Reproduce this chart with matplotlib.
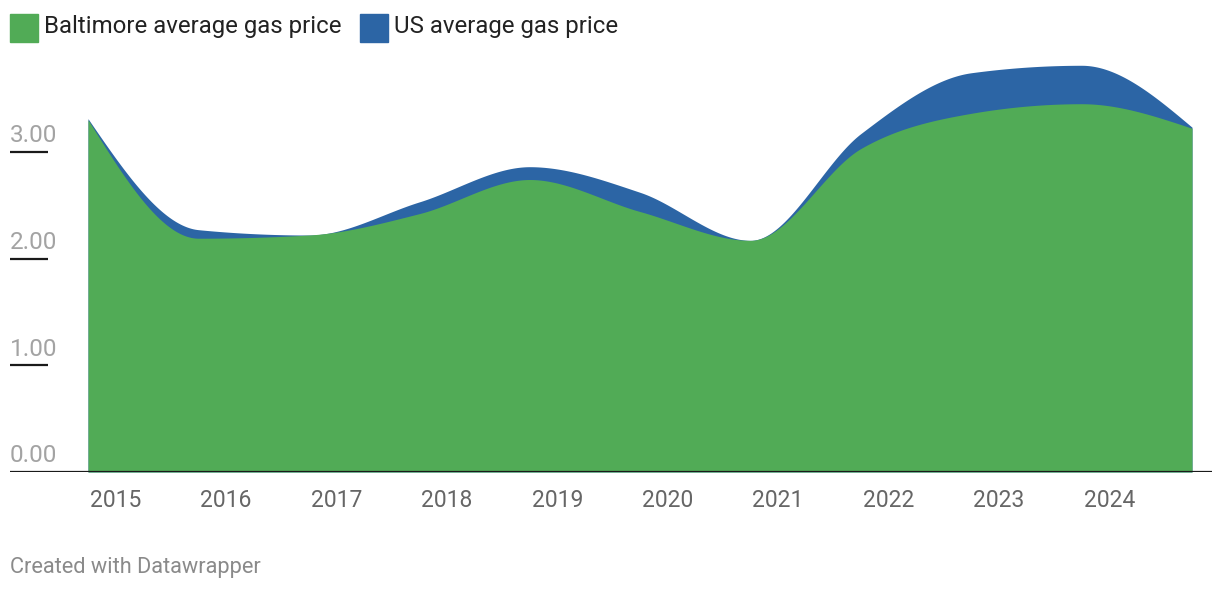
import numpy as np
import matplotlib
matplotlib.use("Agg")
import matplotlib.pyplot as plt

plt.rcParams['font.family'] = ['Roboto', 'DejaVu Sans']

# yearly readings (October of each year)
years = [2014.75, 2015.75, 2016.75, 2017.75, 2018.75, 2019.75,
         2020.75, 2021.75, 2022.75, 2023.75, 2024.75]
baltimore = [3.30, 2.19, 2.22, 2.42, 2.74, 2.44, 2.17, 3.03, 3.36, 3.45, 3.22]
us_avg = [3.31, 2.27, 2.22, 2.53, 2.86, 2.62, 2.17, 3.17, 3.74, 3.81, 3.23]
y_ticks = [0, 1, 2, 3]
x_labels = [2015, 2016, 2017, 2018, 2019, 2020, 2021, 2022, 2023, 2024]

GREEN = '#51ab56'
BLUE = '#2c65a5'


def monotone(xs, ys, n=60):
    # monotone cubic, same idea as d3.curveMonotoneX
    xs = np.asarray(xs, float)
    ys = np.asarray(ys, float)
    h = np.diff(xs)
    s = np.diff(ys) / h
    m = np.zeros(len(xs))
    for i in range(1, len(xs) - 1):
        s0, s1 = s[i - 1], s[i]
        p = (s0 * h[i] + s1 * h[i - 1]) / (h[i - 1] + h[i])
        m[i] = (np.sign(s0) + np.sign(s1)) * min(abs(s0), abs(s1), 0.5 * abs(p))
    m[0] = (3 * s[0] - m[1]) / 2
    m[-1] = (3 * s[-1] - m[-2]) / 2
    out_x, out_y = [], []
    for i in range(len(xs) - 1):
        t = np.linspace(0, 1, n, endpoint=(i == len(xs) - 2))
        h00 = 2 * t**3 - 3 * t**2 + 1
        h10 = t**3 - 2 * t**2 + t
        h01 = -2 * t**3 + 3 * t**2
        h11 = t**3 - t**2
        out_x.append(xs[i] + t * h[i])
        out_y.append(h00 * ys[i] + h10 * h[i] * m[i] + h01 * ys[i + 1] + h11 * h[i] * m[i + 1])
    return np.concatenate(out_x), np.concatenate(out_y)


fig = plt.figure(figsize=(12.2, 5.9), dpi=100)
W, H = 1220, 590
ax = fig.add_axes([10 / W, (H - 472) / H, 1202 / W, (472 - 45) / H])

px_per_year = (1192 - 88) / 10
ax.set_xlim(2014.75 - 78 / px_per_year, 2024.75 + 20 / px_per_year)
ax.set_ylim(0, 4.0)

ux, uy = monotone(years, us_avg)
bx, by = monotone(years, baltimore)
ax.fill_between(ux, 0, uy, color=BLUE, lw=0)
ax.fill_between(bx, 0, by, color=GREEN, lw=0)

for s in ax.spines.values():
    s.set_visible(False)
ax.axhline(0, color='#1a1a1a', lw=1.6, zorder=5)

trans = ax.get_yaxis_transform()
for v in y_ticks:
    if v > 0:
        ax.plot([0, 38 / 1202], [v, v], color='#1a1a1a', lw=1.6, transform=trans,
                solid_capstyle='butt', clip_on=False)
    ax.annotate(f'{v:.2f}', xy=(0, v), xycoords=trans, xytext=(0, 7),
                textcoords='offset points', ha='left', va='baseline',
                fontsize=17.5, color='#a3a3a3')

ax.set_yticks([])
ax.set_xticks(x_labels)
ax.set_xticklabels([str(x) for x in x_labels], fontsize=16.5, color='#666666')
ax.tick_params(axis='x', length=0, pad=12)

# legend
fig.patches.append(plt.Rectangle((10 / W, 1 - 42 / H), 28 / W, 28 / H,
                                 transform=fig.transFigure, color=GREEN))
fig.text(44 / W, 1 - 27 / H, 'Baltimore average gas price', fontsize=17.3,
         color='#222222', va='center', ha='left')
fig.patches.append(plt.Rectangle((360 / W, 1 - 42 / H), 28 / W, 28 / H,
                                 transform=fig.transFigure, color=BLUE))
fig.text(394 / W, 1 - 27 / H, 'US average gas price', fontsize=17.3,
         color='#222222', va='center', ha='left')

fig.text(10 / W, 1 - 567 / H, 'Created with Datawrapper', fontsize=15.7,
         color='#8a8a8a', va='center', ha='left')

fig.savefig('out.png', dpi=100, facecolor='white')
